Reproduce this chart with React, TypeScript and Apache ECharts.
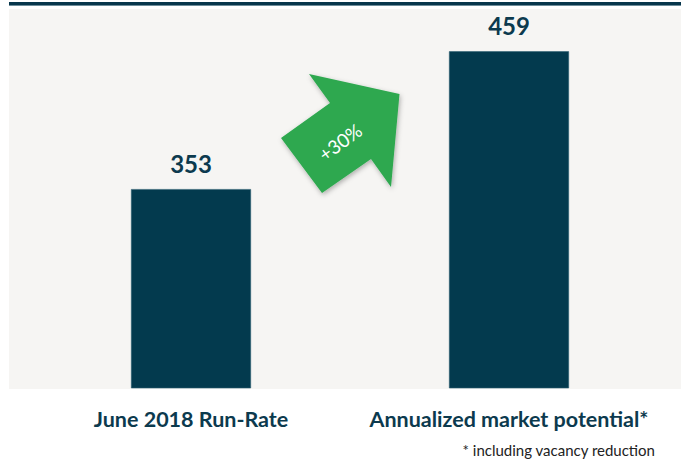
import React, { useEffect, useRef } from "react";
import * as echarts from "echarts";

const categories = ["June 2018 Run-Rate", "Annualized market potential*"];
const values = [353, 459];
const growthLabel = "+30%";
const footnote = "* including vacancy reduction";

const NAVY = "#033a4e";
const TEXT = "#0c3a4e";
const FONT = "Lato, 'Open Sans', sans-serif";

export default function App() {
  const ref = useRef<HTMLDivElement>(null);
  useEffect(() => {
    if (!ref.current) return;
    const chart = echarts.init(ref.current, undefined, { renderer: "svg" });
    chart.setOption({
      animation: false,
      backgroundColor: "#ffffff",
      grid: { left: 32, right: 13, top: 11, bottom: 76 },
      xAxis: {
        type: "category",
        data: categories,
        axisLine: { show: false },
        axisTick: { show: false },
        axisLabel: {
          interval: 0,
          margin: 20,
          fontSize: 21.5,
          fontWeight: "bold",
          fontFamily: FONT,
          color: TEXT,
        },
      },
      yAxis: {
        type: "value",
        min: 200,
        max: 490,
        show: false,
        splitLine: { show: false },
      },
      series: [
        {
          type: "bar",
          data: values,
          barWidth: 120,
          z: 5,
          itemStyle: { color: NAVY, borderColor: "#2d5f72", borderWidth: 0.6 },
          label: {
            show: true,
            position: "top",
            distance: 14,
            fontSize: 24,
            fontWeight: "bold",
            fontFamily: FONT,
            color: TEXT,
          },
        },
      ],
      graphic: [
        {
          type: "rect",
          z: -10,
          shape: { x: 9, y: 9, width: 672, height: 380 },
          style: { fill: "#f6f5f3" },
        },
        {
          type: "rect",
          z: 1,
          shape: { x: 9, y: 2, width: 672, height: 3 },
          style: { fill: "#07364b" },
        },
        {
          type: "rect",
          z: 1,
          shape: { x: 9, y: 5, width: 672, height: 1 },
          style: { fill: "#6d8d9a" },
        },
        {
          type: "polygon",
          z: 50,
          shape: {
            points: [
              [281, 138],
              [322, 193],
              [371, 159],
              [391, 187],
              [399.5, 94],
              [309, 74],
              [330, 103],
            ],
          },
          style: {
            fill: "#2ea84f",
            shadowBlur: 5,
            shadowColor: "rgba(0,0,0,0.3)",
            shadowOffsetX: 1,
            shadowOffsetY: 2,
          },
        },
        {
          type: "text",
          z: 60,
          x: 340,
          y: 142,
          rotation: (36 * Math.PI) / 180,
          style: {
            text: growthLabel,
            fill: "#ffffff",
            fontSize: 19,
            fontFamily: FONT,
            align: "center",
            verticalAlign: "middle",
          },
        },
        {
          type: "text",
          z: 60,
          x: 655,
          y: 450,
          style: {
            text: footnote,
            fill: "#222222",
            fontSize: 15,
            fontFamily: FONT,
            align: "right",
            verticalAlign: "middle",
          },
        },
      ],
    });
    return () => chart.dispose();
  }, []);
  return (
    <div
      ref={ref}
      style={{ position: "fixed", left: 0, top: 0, width: 681, height: 464 }}
    />
  );
}
